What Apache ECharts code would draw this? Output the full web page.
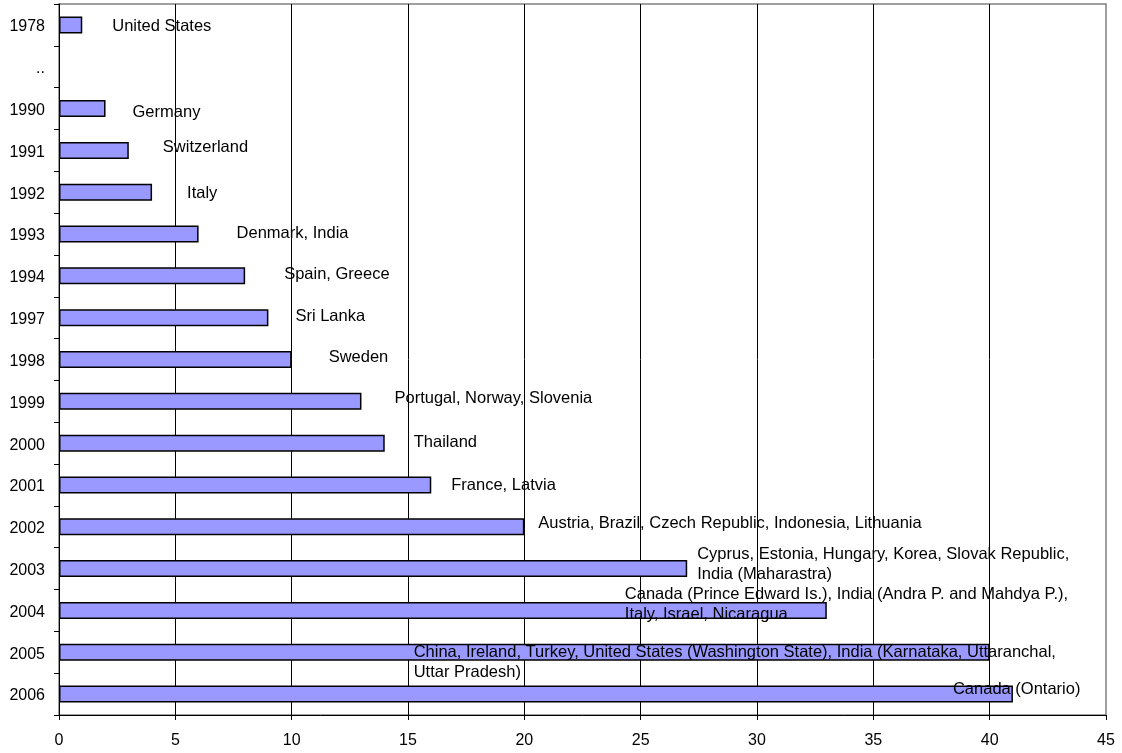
<!DOCTYPE html>
<html>
<head>
<meta charset="utf-8">
<title>Countries by year</title>
<script src="https://cdn.jsdelivr.net/npm/echarts@6/dist/echarts.min.js"></script>
<style>
  html, body { margin: 0; padding: 0; background: #fff; }
  #chart { width: 1122px; height: 753px; }
</style>
</head>
<body>
<div id="chart"></div>
<script>
// Year rows, top to bottom
const years = ['1978', '..', '1990', '1991', '1992', '1993', '1994', '1997', '1998',
  '1999', '2000', '2001', '2002', '2003', '2004', '2005', '2006'];

// Cumulative number of countries per year
const countryCount = [1, null, 2, 3, 4, 6, 8, 9, 10, 13, 14, 16, 20, 27, 33, 40, 41];

// Countries added in each year
const countryNames = [
  'United States',
  '',
  'Germany',
  'Switzerland',
  'Italy',
  'Denmark, India',
  'Spain, Greece',
  'Sri Lanka',
  'Sweden',
  'Portugal, Norway, Slovenia',
  'Thailand',
  'France, Latvia',
  'Austria, Brazil, Czech Republic, Indonesia, Lithuania',
  'Cyprus, Estonia, Hungary, Korea, Slovak Republic,\nIndia (Maharastra)',
  'Canada (Prince Edward Is.), India (Andra P. and Mahdya P.),\nItaly, Israel, Nicaragua',
  'China, Ireland, Turkey, United States (Washington State), India (Karnataka, Uttaranchal,\nUttar Pradesh)',
  'Canada (Ontario)'
];

// Value axis ticks
const xMin = 0, xMax = 45, xStep = 5;

// Pixel nudges of each name label from the end of its bar [dx, dy]
const labelNudge = [
  [30, 2], [0, 0], [27, 4], [34, -3], [35, 1], [38, -1], [39, -1], [27, -1],
  [37, -2], [33, -3], [29, -1], [20, 0], [14, -3], [10, -4], [-202, -6],
  [-576, 10], [-60, -5]
];

const FONT = '"Liberation Sans", Arial, sans-serif';

const chart = echarts.init(document.getElementById('chart'), null, { renderer: 'canvas' });

chart.setOption({
  animation: false,
  backgroundColor: '#ffffff',
  textStyle: { fontFamily: FONT },
  grid: {
    left: 59, right: 16, top: 4, bottom: 38,
    show: true,
    borderColor: '#808080',
    borderWidth: 1.5,
    backgroundColor: 'transparent'
  },
  xAxis: {
    type: 'value',
    min: xMin, max: xMax, interval: xStep,
    axisLine: { show: true, lineStyle: { color: '#000', width: 1 } },
    axisTick: { show: true, length: 5, lineStyle: { color: '#000' } },
    axisLabel: { margin: 18, color: '#000', fontSize: 16, fontFamily: FONT },
    splitLine: { show: true, showMinLine: false, showMaxLine: false, lineStyle: { color: '#000', width: 1 } }
  },
  yAxis: {
    type: 'category',
    data: years,
    inverse: true,
    axisLine: { show: true, lineStyle: { color: '#000', width: 1 } },
    axisTick: { show: true, length: 5, alignWithLabel: false, lineStyle: { color: '#000' } },
    axisLabel: {
      margin: 14,
      formatter: '{yr|{value}}',
      rich: {
        yr: { color: '#000', fontSize: 16, fontFamily: FONT, padding: [4, 0, 0, 0] }
      }
    },
    splitLine: { show: false }
  },
  series: [{
    type: 'bar',
    data: countryCount,
    barWidth: 17,
    itemStyle: { color: '#9999ff', borderColor: '#000', borderWidth: 1.5 },
    label: {
      show: true,
      position: 'right',
      distance: 0,
      color: '#000',
      fontSize: 16.5,
      lineHeight: 20,
      fontFamily: FONT,
      formatter: p => countryNames[p.dataIndex]
    },
    labelLayout: p => ({
      dx: labelNudge[p.dataIndex][0],
      dy: labelNudge[p.dataIndex][1],
      hideOverlap: false
    })
  }]
});
</script>
</body>
</html>
